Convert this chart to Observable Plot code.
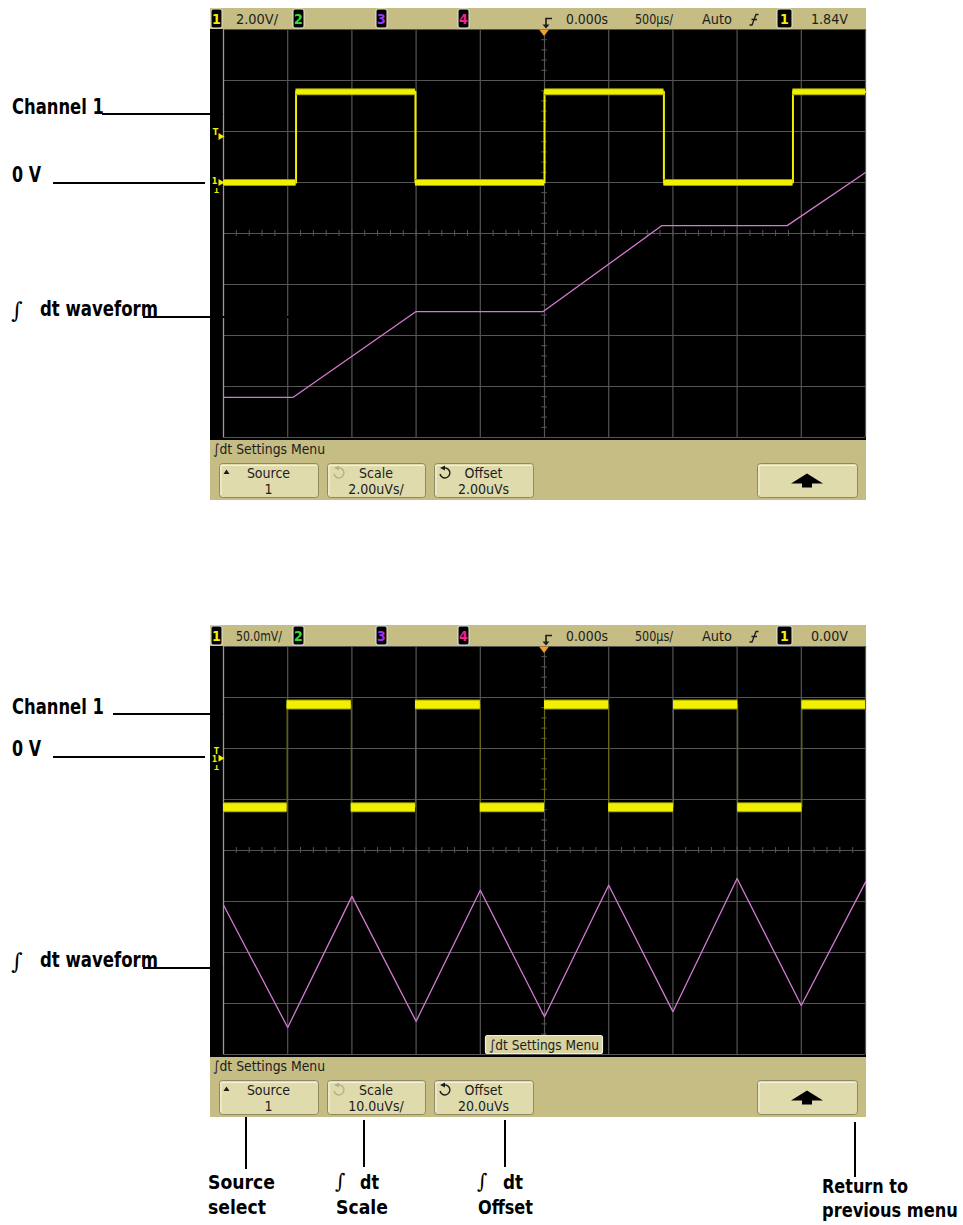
<!DOCTYPE html>
<html>
<head>
<meta charset="utf-8">
<script src="https://cdn.jsdelivr.net/npm/d3@7"></script>
<script src="https://cdn.jsdelivr.net/npm/@observablehq/plot@0.6"></script>
<style>
html,body{margin:0;padding:0;background:#fff;}
#page{position:relative;width:963px;height:1225px;overflow:hidden;background:#fff;}
.scope{position:absolute;line-height:0;}
.scope svg{display:block;}
#overlay{position:absolute;left:0;top:0;pointer-events:none;}
</style>
</head>
<body>
<div id="page"></div>
<script>
// ================= DATA =================
// time axis: 500 µs/div, 10 divisions centred on 0.000 s
const gridTimes = [-2500, -2000, -1500, -1000, -500, 0, 500, 1000, 1500, 2000, 2500]; // µs
const gridDivs = [-4, -3, -2, -1, 0, 1, 2, 3, 4];

// ---- top screen ----
const topHeaderTexts = ["2.00V/", "0.000s", "500µs/", "Auto", "1.84V"];
const topButtonLabels = ["Source", "Scale", "Offset"];
const topButtonValues = ["1", "2.00uVs/", "2.00uVs"];
const topCh1Edges = [-1935, -1005, 0, 930, 1935];          // µs
const topCh1Levels = [0, 3.56, 0, 3.56, 0, 3.56];          // V
const topIntTime = [-2500, -1960, -1000, -10, 915, 1890, 2500]; // µs
const topIntValue = [-4.43, -4.43, -1.06, -1.06, 2.31, 2.31, 4.39]; // µVs
const topTrigLevel = 1.84; // V

// ---- bottom screen ----
const botHeaderTexts = ["50.0mV/", "0.000s", "500µs/", "Auto", "0.00V"];
const botButtonLabels = ["Source", "Scale", "Offset"];
const botButtonValues = ["1", "10.0uVs/", "20.0uVs"];
const botCh1Edges = [-2005, -1505, -1005, -500, 0, 500, 1005, 1505, 2005]; // µs
const botCh1Levels = [-48, 52.6, -48, 52.6, -48, 52.6, -48, 52.6, -48, 52.6]; // mV
const botIntTime = [-2500, -2000, -1500, -1000, -500, 0, 500, 1000, 1500, 2000, 2500]; // µs
const botIntValue = [9.3, -14.7, 11.0, -13.5, 12.2, -12.6, 13.2, -11.6, 14.5, -10.4, 13.8]; // µVs
const botTrigLevel = 0; // mV

// channel header boxes
const chanNumbers = ["1", "2", "3", "4"];
const chanColors = ["#f2f200", "#30e030", "#a030f0", "#f02090"];

// annotation texts
const sideLabels = ["Channel 1", "0 V", "dt waveform"];
const bottomLabels = [["Source", "select"], ["dt", "Scale"], ["dt", "Offset"], ["Return to", "previous menu"]];
const menuTitle = "∫dt Settings Menu";

// ================= STYLE =================
const KHAKI = "#c5bd83";
const BTN = "#dfdbad";
const YEL = "#f0f000";
const MAG = "#d27ad2";
const GRID = "#555555";
const FS = "'DejaVu Sans Condensed','DejaVu Sans',sans-serif";

const page = document.getElementById("page");

function squareSegments(edges, levels, conv) {
  const xs = [-2500, ...edges, 2500];
  return levels.map((v, i) => ({x1: xs[i], x2: xs[i + 1], y: conv(v)}));
}

function scope(cfg) {
  const segs = squareSegments(cfg.edges, cfg.levels, cfg.ch1);
  const pts = segs.flatMap(s => [{t: s.x1, y: s.y}, {t: s.x2, y: s.y}]);
  const ipts = cfg.intTime.map((t, i) => ({t, y: cfg.int(cfg.intValue[i])}));
  const trig = cfg.ch1(cfg.trig), zero = cfg.ch1(0);
  const markers = cfg.sameLevel ? [
      Plot.text([0], {x: -2500, y: zero, text: () => "T", dx: -7, dy: -7, fill: YEL, fontSize: 8, fontWeight: "bold", fontFamily: FS}),
      Plot.text([0], {x: -2500, y: zero, text: () => "1", dx: -9, dy: 1, fill: YEL, fontSize: 8, fontWeight: "bold", fontFamily: FS}),
      Plot.dot([0], {x: -2500, y: zero, symbol: "triangle", r: 2.6, rotate: 90, dx: -3, fill: YEL}),
      Plot.text([0], {x: -2500, y: zero, text: () => "T", rotate: 180, dx: -7, dy: 9, fill: YEL, fontSize: 7, fontWeight: "bold", fontFamily: FS})
    ] : [
      Plot.text([0], {x: -2500, y: trig, text: () => "T", dx: -8, dy: -3, fill: YEL, fontSize: 9, fontWeight: "bold", fontFamily: FS}),
      Plot.dot([0], {x: -2500, y: trig, symbol: "triangle", r: 2.6, rotate: 90, dx: -3, dy: 1, fill: YEL}),
      Plot.text([0], {x: -2500, y: zero, text: () => "1", dx: -9, dy: -1, fill: YEL, fontSize: 9, fontWeight: "bold", fontFamily: FS}),
      Plot.dot([0], {x: -2500, y: zero, symbol: "triangle", r: 2.6, rotate: 90, dx: -3, fill: YEL}),
      Plot.text([0], {x: -2500, y: zero, text: () => "T", rotate: 180, dx: -7, dy: 8, fill: YEL, fontSize: 7, fontWeight: "bold", fontFamily: FS})
    ];
  const chart = Plot.plot({
    width: 656, height: 412,
    marginLeft: 13, marginRight: 1, marginTop: 1, marginBottom: 3,
    x: {domain: [-2500, 2500], axis: null},
    y: {domain: [-4, 4], axis: null},
    style: {background: "#000", overflow: "visible"},
    marks: [
      Plot.ruleX(gridTimes, {stroke: GRID, strokeWidth: 1.2}),
      Plot.ruleY(gridDivs, {stroke: GRID, strokeWidth: 1.2}),
      Plot.ruleX(d3.range(-2500, 2501, 100), {y1: -0.06, y2: 0.06, stroke: GRID, strokeWidth: 1}),
      Plot.ruleY(d3.range(-4, 4.001, 0.2), {x1: -22, x2: 22, stroke: GRID, strokeWidth: 1}),
      Plot.ruleX([-2500], {stroke: "#9a9a9a", strokeWidth: 1.2}),
      Plot.line(pts, {x: "t", y: "y", stroke: cfg.edgeColor, strokeWidth: cfg.edgeWidth}),
      Plot.ruleY(segs, {x1: "x1", x2: "x2", y: "y", stroke: "#9a9a00", strokeWidth: cfg.thick + 2}),
      Plot.ruleY(segs, {x1: "x1", x2: "x2", y: "y", stroke: YEL, strokeWidth: cfg.thick}),
      Plot.line(ipts, {x: "t", y: "y", stroke: MAG, strokeWidth: 1.3}),
      ...markers
    ]
  });
  const wrap = document.createElement("div");
  wrap.className = "scope";
  wrap.style.left = "210px";
  wrap.style.top = (28 + cfg.dy) + "px";
  wrap.appendChild(chart);
  page.appendChild(wrap);
}

scope({
  dy: 0,
  edges: topCh1Edges, levels: topCh1Levels, ch1: v => v / 2.0 + 1.0,
  intTime: topIntTime, intValue: topIntValue, int: v => (v - 2.0) / 2.0,
  trig: topTrigLevel, thick: 5, edgeColor: YEL, edgeWidth: 2, sameLevel: false
});
scope({
  dy: 617,
  edges: botCh1Edges, levels: botCh1Levels, ch1: v => v / 50 + 1.81,
  intTime: botIntTime, intValue: botIntValue, int: v => (v - 20) / 10,
  trig: botTrigLevel, thick: 8, edgeColor: "#6a6a10", edgeWidth: 1, sameLevel: true
});

// ================= OVERLAY (scope chrome + annotations) =================
const svg = d3.select(page).append("svg").attr("id", "overlay")
  .attr("width", 963).attr("height", 1225);

function txt(g, x, y, s, o = {}) {
  const t = g.append("text").attr("x", x).attr("y", y).text(s)
    .attr("font-family", o.family || FS)
    .attr("font-size", o.size || 14)
    .attr("font-weight", o.weight || "normal")
    .attr("fill", o.fill || "#1c1c1c");
  if (o.anchor) t.attr("text-anchor", o.anchor);
  if (o.len) t.attr("textLength", o.len).attr("lengthAdjust", "spacingAndGlyphs");
  return t;
}

function chanBox(g, x, y, w, label, color) {
  g.append("rect").attr("x", x).attr("y", y).attr("width", w).attr("height", 19)
    .attr("rx", 2).attr("fill", "#000").attr("stroke", "#e8e8e0").attr("stroke-width", 1);
  txt(g, x + w / 2, y + 15, label, {fill: color, size: 14, weight: "bold", anchor: "middle"});
}

function button(g, x, y, w) {
  g.append("rect").attr("x", x + 0.5).attr("y", y + 0.5).attr("width", w).attr("height", 34)
    .attr("rx", 3).attr("fill", BTN).attr("stroke", "#8e8960").attr("stroke-width", 1);
  g.append("path").attr("d", `M${x + 2},${y + 32} V${y + 2.5} H${x + w - 1}`)
    .attr("fill", "none").attr("stroke", "#f4f1dc").attr("stroke-width", 1.2);
}

function circArrow(g, cx, cy, color) {
  g.append("path").attr("d", `M${cx - 1},${cy - 5} A5,5 0 1,1 ${cx - 5},${cy + 1}`)
    .attr("fill", "none").attr("stroke", color).attr("stroke-width", 1.4);
  g.append("path").attr("d", `M${cx - 5},${cy - 5} L${cx},${cy - 7.5} L${cx},${cy - 2.5} Z`).attr("fill", color);
}

function chrome(dy, headerTexts, btnLabels, btnValues, popup) {
  const g = svg.append("g").attr("transform", `translate(0,${dy})`);
  // header bar
  g.append("rect").attr("x", 210).attr("y", 8).attr("width", 656).attr("height", 21).attr("fill", KHAKI);
  const boxX = [211, 293, 376, 458];
  chanNumbers.forEach((n, i) => chanBox(g, boxX[i], 9, 11, n, chanColors[i]));
  txt(g, 236, 24, headerTexts[0], {len: headerTexts[0].length > 6 ? 46 : 42});
  txt(g, 566, 24, headerTexts[1], {len: 42});
  txt(g, 635, 24, headerTexts[2], {len: 38});
  txt(g, 702, 24, headerTexts[3], {len: 30});
  // trigger-position icon
  g.append("path").attr("d", "M552,18.5 H546 V26").attr("fill", "none").attr("stroke", "#1c1c1c").attr("stroke-width", 1.6);
  g.append("path").attr("d", "M542.5,24.5 H549.5 L546,28.5 Z").attr("fill", "#1c1c1c");
  // trigger slope icon
  g.append("path").attr("d", "M749.5,25 H752 L756,14.5 H758.5 M751.5,19.5 H757").attr("fill", "none").attr("stroke", "#1c1c1c").attr("stroke-width", 1.3);
  chanBox(g, 777, 9, 15, "1", chanColors[0]);
  txt(g, 811, 24, headerTexts[4], {len: 37});
  // orange trigger marker
  g.append("path").attr("d", "M539,29.5 H549 L544,36 Z").attr("fill", "#f0a028");
  // menu bar
  g.append("rect").attr("x", 210).attr("y", 440).attr("width", 656).attr("height", 60).attr("fill", KHAKI);
  txt(g, 213, 454, menuTitle, {len: 112});
  const bx = [219, 327, 434], bw = [99, 98, 99];
  bx.forEach((x, i) => {
    button(g, x, 463, bw[i]);
    txt(g, x + bw[i] / 2, 478, btnLabels[i], {anchor: "middle"});
    txt(g, x + bw[i] / 2, 494, btnValues[i], {anchor: "middle"});
  });
  g.append("path").attr("d", "M223.5,474 L226.5,469.5 L229.5,474 Z").attr("fill", "#1c1c1c");
  circArrow(g, 339, 473, "#b5b08a");
  circArrow(g, 445, 473, "#1c1c1c");
  button(g, 757, 463, 100);
  g.append("path").attr("d", "M791,483.5 L807,473.5 L823,483.5 H812 V487.5 H802 V483.5 Z").attr("fill", "#000");
  if (popup) {
    g.append("rect").attr("x", 485.5).attr("y", 418.5).attr("width", 117).attr("height", 18)
      .attr("rx", 2).attr("fill", "#d7d2a0").attr("stroke", "#f2f0e0").attr("stroke-width", 1.2);
    txt(g, 489, 432.5, menuTitle, {len: 110});
  }
}
chrome(0, topHeaderTexts, topButtonLabels, topButtonValues, false);
chrome(617, botHeaderTexts, botButtonLabels, botButtonValues, true);

// ---- annotations (bold condensed; squeezed horizontally to the measured width) ----
const ann = svg.append("g");
function label(x, y, s, width, size = 22) {
  const t = ann.append("text").text(s)
    .attr("font-family", FS).attr("font-size", size).attr("font-weight", "bold").attr("fill", "#000")
    .attr("transform", `translate(${x},${y})`);
  const w = t.node().getComputedTextLength() || width;
  t.attr("transform", `translate(${x},${y}) scale(${(width / w).toFixed(4)},1)`);
  return t;
}
function hline(x1, x2, y) {
  ann.append("line").attr("x1", x1).attr("x2", x2).attr("y1", y).attr("y2", y)
    .attr("stroke", "#000").attr("stroke-width", 2);
}
function vline(x, y1, y2) {
  ann.append("line").attr("x1", x).attr("x2", x).attr("y1", y1).attr("y2", y2)
    .attr("stroke", "#000").attr("stroke-width", 2);
}
function integral(x, y, size = 22) {
  txt(ann, x, y, "∫", {size, family: "'DejaVu Serif','DejaVu Sans',serif", fill: "#000"});
}
function sideSet(yCh, yZero, yWave, chLineStart) {
  label(12, yCh, sideLabels[0], 92);
  hline(chLineStart, 223, yCh);
  label(12, yZero - 1, sideLabels[1], 29);
  hline(53, 205, yZero);
  integral(11, yWave + 1);
  label(40, yWave - 1, sideLabels[2], 118);
}
sideSet(114, 183, 317, 102);
hline(143, 290, 317);
sideSet(714, 757, 968, 113);
hline(143, 223, 968);

// bottom callouts
vline(246, 1117, 1169);
label(208, 1189, bottomLabels[0][0], 67, 20);
label(208, 1214, bottomLabels[0][1], 58, 20);
vline(364, 1120, 1167);
integral(335, 1188, 20);
label(360, 1189, bottomLabels[1][0], 19, 20);
label(336, 1214, bottomLabels[1][1], 52, 20);
vline(505, 1120, 1167);
integral(477, 1188, 20);
label(503, 1189, bottomLabels[2][0], 20, 20);
label(478, 1214, bottomLabels[2][1], 55, 20);
vline(855, 1122, 1177);
label(822, 1193, bottomLabels[3][0], 86, 20);
label(822, 1217, bottomLabels[3][1], 136, 20);
</script>
</body>
</html>
